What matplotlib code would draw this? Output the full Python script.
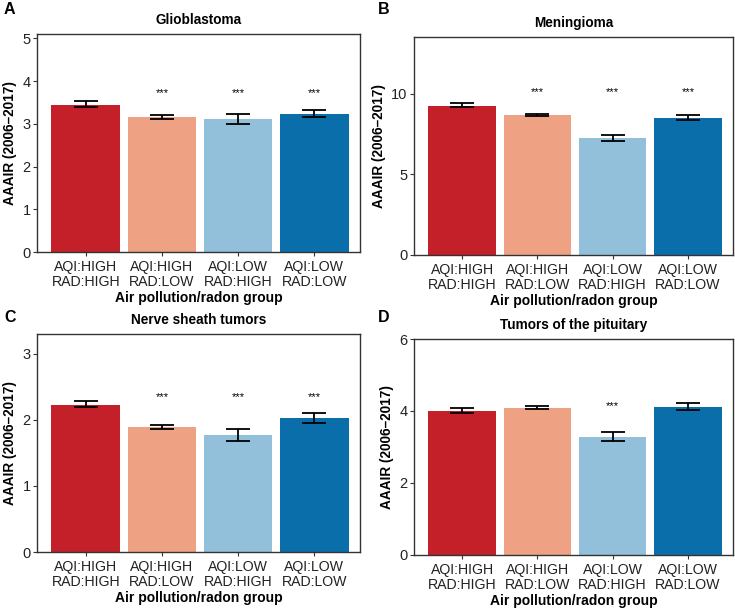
import matplotlib
matplotlib.use("Agg")
import matplotlib.pyplot as plt
import numpy as np

GROUPS = ["AQI:HIGH\nRAD:HIGH", "AQI:HIGH\nRAD:LOW", "AQI:LOW\nRAD:HIGH", "AQI:LOW\nRAD:LOW"]
COLORS = ["#C4202A", "#EEA283", "#92C0DA", "#0A6EAB"]

TITLES = ["Glioblastoma", "Meningioma", "Nerve sheath tumors", "Tumors of the pituitary"]
LETTERS = ["A", "B", "C", "D"]

GBM_VAL = [3.45, 3.16, 3.11, 3.23]
GBM_LO = [3.40, 3.12, 3.00, 3.15]
GBM_HI = [3.53, 3.21, 3.23, 3.32]
GBM_SIG = [False, True, True, True]

MEN_VAL = [9.25, 8.68, 7.25, 8.49]
MEN_LO = [9.17, 8.61, 7.08, 8.34]
MEN_HI = [9.40, 8.76, 7.43, 8.65]
MEN_SIG = [False, True, True, True]

NST_VAL = [2.23, 1.895, 1.77, 2.03]
NST_LO = [2.19, 1.86, 1.68, 1.96]
NST_HI = [2.28, 1.92, 1.86, 2.10]
NST_SIG = [False, True, True, True]

PIT_VAL = [4.01, 4.09, 3.27, 4.12]
PIT_LO = [3.95, 4.05, 3.16, 4.02]
PIT_HI = [4.09, 4.13, 3.41, 4.23]
PIT_SIG = [False, False, True, False]

YMAX = [5.1, 13.5, 3.3, 6.0]
YTICKS = [[0, 1, 2, 3, 4, 5], [0, 5, 10], [0, 1, 2, 3], [0, 2, 4, 6]]
STAR_Y = [3.72, 10.08, 2.34, 4.14]

PANELS = [
    (GBM_VAL, GBM_LO, GBM_HI, GBM_SIG),
    (MEN_VAL, MEN_LO, MEN_HI, MEN_SIG),
    (NST_VAL, NST_LO, NST_HI, NST_SIG),
    (PIT_VAL, PIT_LO, PIT_HI, PIT_SIG),
]

W, H = 735, 608
# axes boxes in pixels: left, top, right, bottom
BOXES = [(37, 34, 360, 252), (414, 37, 733, 255), (37, 334, 360, 552), (414, 339, 733, 555)]
LETTER_POS = [(4, 10), (378, 10), (4, 317), (378, 317)]

plt.rcParams["font.family"] = ["Liberation Sans", "DejaVu Sans"]

fig = plt.figure(figsize=(W / 100, H / 100), dpi=100)
fig.patch.set_facecolor("white")

for i, (vals, lo, hi, sig) in enumerate(PANELS):
    l, t, r, b = BOXES[i]
    ax = fig.add_axes([l / W, 1 - b / H, (r - l) / W, (b - t) / H])
    x = np.arange(1, 5)
    vals = np.array(vals)
    ax.bar(x, vals, width=0.9, color=COLORS)
    yerr = np.array([vals - np.array(lo), np.array(hi) - vals])
    ax.errorbar(x, vals, yerr=yerr, fmt="none", ecolor="black",
                elinewidth=1.3, capsize=8.3, capthick=1.3)
    for xi, s in zip(x, sig):
        if s:
            ax.text(xi, STAR_Y[i], "***", ha="center", va="center", fontsize=8)

    ax.set_xlim(0.36, 4.6)
    ax.set_ylim(0, YMAX[i])
    ax.set_yticks(YTICKS[i])
    ax.set_xticks(x)
    ax.set_xticklabels(GROUPS, fontsize=10.2, color="#222", linespacing=1.15)
    ax.tick_params(axis="y", labelsize=10.5, length=3, width=0.8, color="#333",
                   labelcolor="#222", pad=1.5)
    ax.tick_params(axis="x", length=3, width=0.8, color="#333", pad=2.5)
    for sp in ax.spines.values():
        sp.set_color("#333")
        sp.set_linewidth(1.0)
    ax.set_title(TITLES[i], fontsize=9.8, fontweight="bold", pad=7)
    ax.set_ylabel("AAAIR (2006\u20132017)", fontsize=9.8, fontweight="bold", labelpad=4)
    ax.set_xlabel("Air pollution/radon group", fontsize=10, fontweight="bold", labelpad=1.5)

    lx, ly = LETTER_POS[i]
    fig.text(lx / W, 1 - ly / H, LETTERS[i], fontsize=11.5, fontweight="bold",
             ha="left", va="center")

fig.savefig("out.png", dpi=100)
